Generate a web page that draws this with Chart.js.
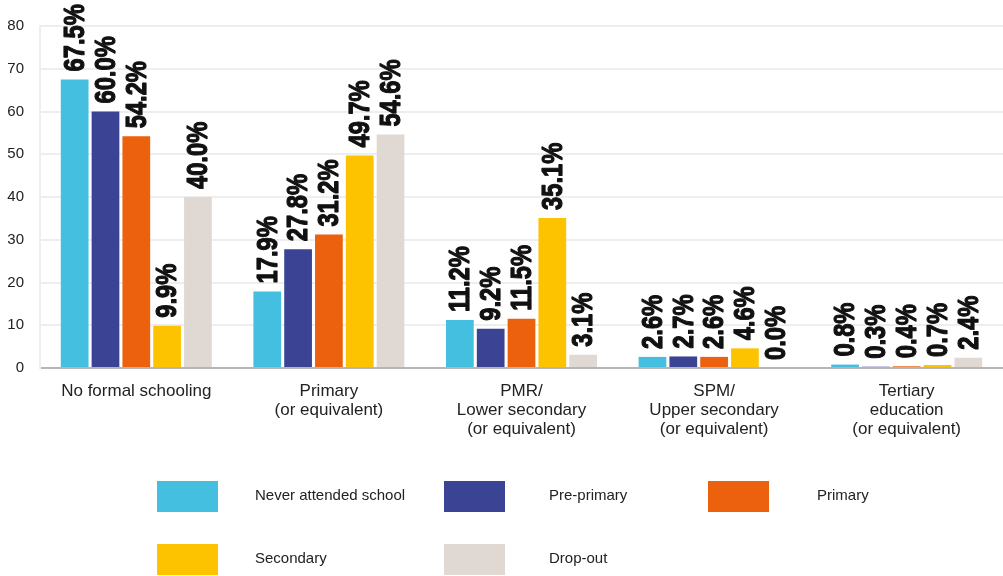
<!DOCTYPE html>
<html>
<head>
<meta charset="utf-8">
<script src="https://cdn.jsdelivr.net/npm/chart.js@4.4.1/dist/chart.umd.min.js"></script>
<style>
  html, body { margin: 0; padding: 0; background: #fff; }
  #wrap { width: 1003px; height: 576px; position: relative; }
</style>
</head>
<body>
<div id="wrap"><canvas id="eduChart"></canvas></div>
<script>
// -------------------------------
// DATA
// -------------------------------
const categories = [
    "No formal schooling",
    ["Primary", "(or equivalent)"],
    ["PMR/", "Lower secondary", "(or equivalent)"],
    ["SPM/", "Upper secondary", "(or equivalent)"],
    ["Tertiary", "education", "(or equivalent)"]
];
const neverAttended = [67.5, 17.9, 11.2, 2.6, 0.8];
const prePrimary    = [60.0, 27.8, 9.2, 2.7, 0.3];
const primary       = [54.2, 31.2, 11.5, 2.6, 0.4];
const secondary     = [9.9, 49.7, 35.1, 4.6, 0.7];
const dropOut       = [40.0, 54.6, 3.1, 0.0, 2.4];
const yTicks = [0, 10, 20, 30, 40, 50, 60, 70, 80];

// -------------------------------
// PLUGINS
// -------------------------------
// rotated bold value labels above each bar
const valueLabels = {
    id: "valueLabels",
    afterDatasetsDraw(chart) {
        const ctx = chart.ctx;
        ctx.save();
        ctx.fillStyle = "#111";
        ctx.strokeStyle = "#111";
        ctx.lineWidth = 1.2;
        ctx.lineJoin = "round";
        ctx.font = "bold 30px 'Liberation Sans', Arial, sans-serif";
        ctx.textBaseline = "middle";
        ctx.textAlign = "left";
        chart.data.datasets.forEach((ds, i) => {
            chart.getDatasetMeta(i).data.forEach((bar, j) => {
                const txt = ds.data[j].toFixed(1) + "%";
                ctx.save();
                ctx.translate(bar.x, bar.y - 8);
                ctx.rotate(-Math.PI / 2);
                ctx.scale(0.79, 1);
                ctx.fillText(txt, 0, 1);
                ctx.strokeText(txt, 0, 1);
                ctx.restore();
            });
        });
        ctx.restore();
    }
};

// legend in a 3-column grid under the chart
const gridLegend = {
    id: "gridLegend",
    afterDraw(chart) {
        const ctx = chart.ctx;
        const cols = [157, 444, 708];
        const textOff = [98, 105, 109];
        const rows = [481, 544];
        ctx.save();
        ctx.font = "15px 'Liberation Sans', Arial, sans-serif";
        ctx.textBaseline = "middle";
        chart.data.datasets.forEach((ds, i) => {
            const c = i % 3, r = Math.floor(i / 3);
            const x = cols[c], y = rows[r];
            ctx.fillStyle = ds.backgroundColor;
            ctx.fillRect(x, y, 61, 31);
            ctx.fillStyle = "#222";
            ctx.fillText(ds.label, x + textOff[c], y + 15);
        });
        ctx.restore();
    }
};

// -------------------------------
// CHART
// -------------------------------
new Chart(document.getElementById("eduChart"), {
    type: "bar",
    data: {
        labels: categories,
        datasets: [
            { label: "Never attended school", data: neverAttended, backgroundColor: "#45bfe0" },
            { label: "Pre-primary", data: prePrimary, backgroundColor: "#3b4494" },
            { label: "Primary", data: primary, backgroundColor: "#ec610e" },
            { label: "Secondary", data: secondary, backgroundColor: "#fdc300" },
            { label: "Drop-out", data: dropOut, backgroundColor: "#e0d9d3" }
        ]
    },
    options: {
        responsive: true,
        maintainAspectRatio: false,
        animation: false,
        layout: { padding: { top: 26, bottom: 133, left: 0, right: 0 } },
        datasets: { bar: { categoryPercentage: 0.8, barPercentage: 0.9 } },
        plugins: {
            legend: { display: false },
            tooltip: { enabled: false }
        },
        scales: {
            x: {
                grid: { display: false },
                border: { color: "#b5b5b5", width: 2 },
                ticks: {
                    color: "#222",
                    font: { family: "'Liberation Sans', Arial, sans-serif", size: 17, lineHeight: 1.12 },
                    maxRotation: 0,
                    padding: 6
                },
                afterFit: s => { s.height = 75; }
            },
            y: {
                min: 0,
                max: 80,
                afterBuildTicks: s => { s.ticks = yTicks.map(v => ({ value: v })); },
                grid: { color: "#eeeeee", lineWidth: 2, drawTicks: false },
                border: { color: "#eeeeee", width: 2 },
                ticks: {
                    color: "#222",
                    font: { family: "'Liberation Sans', Arial, sans-serif", size: 15 },
                    padding: 16
                },
                afterFit: s => { s.width = 40; }
            }
        }
    },
    plugins: [valueLabels, gridLegend]
});
</script>
</body>
</html>
